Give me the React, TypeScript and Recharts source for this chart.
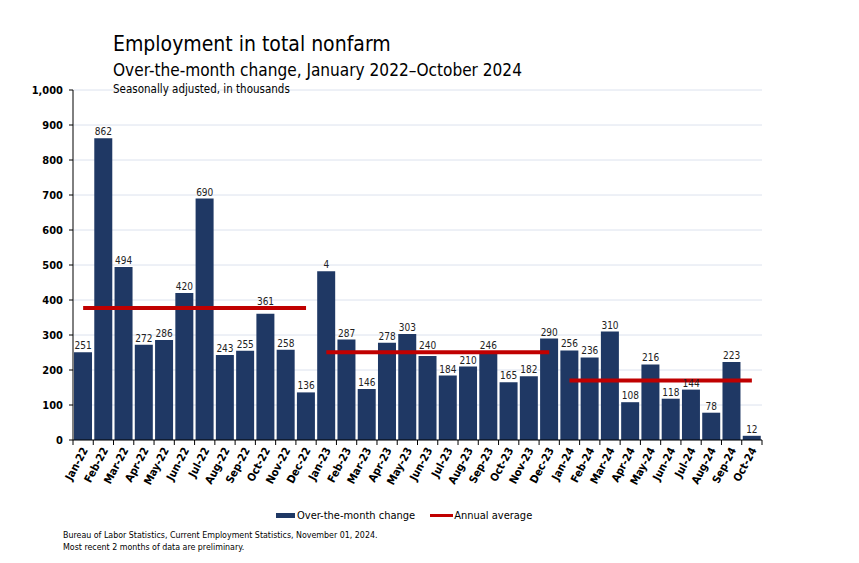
import React from 'react';
import { ComposedChart, Bar, Line, XAxis, YAxis, CartesianGrid, LabelList } from 'recharts';

const months = [
  'Jan-22','Feb-22','Mar-22','Apr-22','May-22','Jun-22','Jul-22','Aug-22','Sep-22','Oct-22','Nov-22','Dec-22',
  'Jan-23','Feb-23','Mar-23','Apr-23','May-23','Jun-23','Jul-23','Aug-23','Sep-23','Oct-23','Nov-23','Dec-23',
  'Jan-24','Feb-24','Mar-24','Apr-24','May-24','Jun-24','Jul-24','Aug-24','Sep-24','Oct-24',
];
const changes = [
  251, 862, 494, 272, 286, 420, 690, 243, 255, 361, 258, 136,
  482, 287, 146, 278, 303, 240, 184, 210, 246, 165, 182, 290,
  256, 236, 310, 108, 216, 118, 144, 78, 223, 12,
];
const barLabels = [
  '251','862','494','272','286','420','690','243','255','361','258','136',
  '4','287','146','278','303','240','184','210','246','165','182','290',
  '256','236','310','108','216','118','144','78','223','12',
];
const annualAverages = [
  { year: '22', value: 377 },
  { year: '23', value: 251 },
  { year: '24', value: 170 },
];
const yTicks = [0, 100, 200, 300, 400, 500, 600, 700, 800, 900, 1000];

const data = months.map((m, i) => {
  const row: any = { month: m, change: changes[i], label: barLabels[i] };
  annualAverages.forEach((a) => {
    row['avg' + a.year] = m.endsWith(a.year) ? a.value : null;
  });
  return row;
});

const CHART_W = 859;
const CHART_H = 563;
const MARGIN = { top: 90, right: 97, bottom: 73, left: 0 };
const Y_W = 73;
const X_H = 50;
const PLOT_W = CHART_W - MARGIN.left - MARGIN.right - Y_W;
const PLOT_H = CHART_H - MARGIN.top - MARGIN.bottom - X_H;
const BAND = PLOT_W / months.length;
const PX_PER_UNIT = PLOT_H / yTicks[yTicks.length - 1];

const NAVY = '#1f3864';
const RED = '#c00000';
const FONT = "'DejaVu Sans Condensed', 'DejaVu Sans', sans-serif";

const XTick = (props: any) => {
  const { x, y, payload, index } = props;
  return (
    <g>
      <line x1={x - BAND / 2} x2={x - BAND / 2} y1={y} y2={y + 5} stroke="#000" />
      {index === months.length - 1 && (
        <line x1={x + BAND / 2} x2={x + BAND / 2} y1={y} y2={y + 5} stroke="#000" />
      )}
      <text
        transform={`translate(${x + 5},${y + 10}) rotate(-62)`}
        textAnchor="end"
        fontSize={11}
        fontWeight="bold"
        fontFamily={FONT}
        fill="#000"
      >
        {payload.value}
      </text>
    </g>
  );
};

// Bar value label; lifted just above the annual-average line when it would be crossed by it.
const ValueLabel = (props: any) => {
  const { x, y, index } = props;
  const month = months[index];
  const avg = annualAverages.find((a) => month.endsWith(a.year));
  let baseline = y - 3;
  if (avg) {
    const lineY = y + (changes[index] - avg.value) * PX_PER_UNIT;
    if (baseline > lineY - 3 && baseline - 7 < lineY - 2) baseline = lineY - 3;
  }
  return (
    <text x={x} y={baseline} textAnchor="middle" fontSize={10} fill="#222" fontFamily={FONT}>
      {barLabels[index]}
    </text>
  );
};

export default function App() {
  return (
    <div style={{ position: 'absolute', left: 0, top: 0, width: CHART_W, height: CHART_H, background: '#fff', fontFamily: FONT }}>
      <ComposedChart width={CHART_W} height={CHART_H} data={data} margin={MARGIN} barCategoryGap="5%">
        <CartesianGrid vertical={false} stroke="#dce2ee" />
        <XAxis
          dataKey="month"
          interval={0}
          height={X_H}
          tickLine={false}
          tickSize={0}
          tickMargin={0}
          axisLine={{ stroke: '#000' }}
          tick={<XTick />}
        />
        <YAxis
          width={Y_W}
          domain={[0, 1000]}
          ticks={yTicks}
          interval={0}
          tickSize={4}
          tickMargin={6}
          axisLine={{ stroke: '#000' }}
          tickLine={{ stroke: '#000' }}
          tickFormatter={(v: number) => v.toLocaleString('en-US')}
          tick={{ fontSize: 11, fontWeight: 'bold', fill: '#000', fontFamily: FONT }}
        />
        <Bar dataKey="change" fill={NAVY} isAnimationActive={false} />
        {annualAverages.map((a) => (
          <Line
            key={a.year}
            dataKey={'avg' + a.year}
            stroke={RED}
            strokeWidth={4}
            dot={false}
            activeDot={false}
            isAnimationActive={false}
          />
        ))}
        <Line
          dataKey="change"
          stroke="none"
          dot={false}
          activeDot={false}
          legendType="none"
          isAnimationActive={false}
        >
          <LabelList dataKey="label" content={<ValueLabel />} />
        </Line>
      </ComposedChart>
      <div style={{ position: 'absolute', left: 113, top: 32, fontSize: 21, color: '#000', whiteSpace: 'nowrap' }}>
        Employment in total nonfarm
      </div>
      <div style={{ position: 'absolute', left: 113, top: 59.5, fontSize: 17.1, color: '#000', whiteSpace: 'nowrap' }}>
        Over-the-month change, January 2022–October 2024
      </div>
      <div style={{ position: 'absolute', left: 113, top: 82, fontSize: 11.5, color: '#000', whiteSpace: 'nowrap' }}>
        Seasonally adjusted, in thousands
      </div>
      <div style={{ position: 'absolute', left: 276, top: 507, height: 16, display: 'flex', alignItems: 'center', fontSize: 11, whiteSpace: 'nowrap' }}>
        <span style={{ display: 'inline-block', width: 19, height: 5, background: NAVY, marginRight: 2 }} />
        <span>Over-the-month change</span>
        <span style={{ display: 'inline-block', width: 23, height: 3, background: RED, marginLeft: 15, marginRight: 1 }} />
        <span>Annual average</span>
      </div>
      <div style={{ position: 'absolute', left: 63, top: 529, fontSize: 8.8, lineHeight: '12px', whiteSpace: 'nowrap' }}>
        Bureau of Labor Statistics, Current Employment Statistics, November 01, 2024.
        <br />
        Most recent 2 months of data are preliminary.
      </div>
    </div>
  );
}
